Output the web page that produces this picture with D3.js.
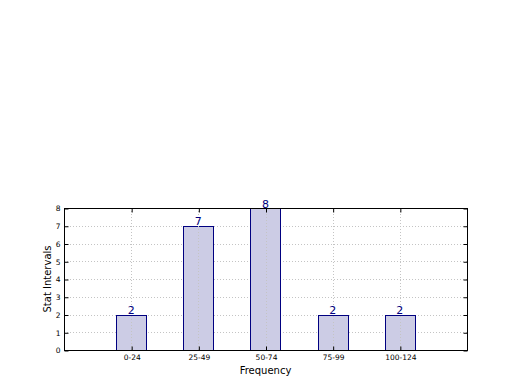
<!DOCTYPE html>
<html>
<head>
<meta charset="utf-8">
<script src="https://cdn.jsdelivr.net/npm/d3@7"></script>
<style>
body { margin: 0; background: #fff; }
text { font-family: "DejaVu Sans", sans-serif; }
</style>
</head>
<body>
<div id="chart"></div>
<script>
// data
var categories = ["0-24", "25-49", "50-74", "75-99", "100-124"];
var counts = [2, 7, 8, 2, 2];
var yTicks = [0, 1, 2, 3, 4, 5, 6, 7, 8];

var width = 520, height = 390;
var plotLeft = 64, plotRight = 467, plotTop = 208, plotBottom = 350;

var svg = d3.select("#chart").append("svg")
	.attr("width", width)
	.attr("height", height);

var x = d3.scaleLinear().domain([-1, categories.length]).range([plotLeft, plotRight]);
var y = d3.scaleLinear().domain([0, 8]).range([plotBottom, plotTop]);
var barW = x(0.45) - x(0);

/* grid */
var grid = svg.append("g").attr("stroke", "#c4c4c4").attr("stroke-dasharray", "1,2").attr("stroke-width", 1);
grid.selectAll("line.gy").data(yTicks).enter().append("line")
	.attr("x1", plotLeft).attr("x2", plotRight)
	.attr("y1", function(d) { return Math.round(y(d)) + 0.5; })
	.attr("y2", function(d) { return Math.round(y(d)) + 0.5; });

/* bars */
svg.selectAll("rect.bar").data(counts).enter().append("rect")
	.attr("class", "bar")
	.attr("x", function(d, i) { return Math.round(x(i) - barW / 2) + 0.5; })
	.attr("y", function(d) { return Math.round(y(d)) + 0.5; })
	.attr("width", Math.round(barW))
	.attr("height", function(d) { return Math.round(y(0)) - Math.round(y(d)); })
	.attr("fill", "#ccccE5")
	.attr("stroke", "#000080")
	.attr("stroke-width", 1);

var grid2 = svg.append("g").attr("stroke", "#c4c4c4").attr("stroke-dasharray", "1,2").attr("stroke-width", 1);
grid2.selectAll("line.gx").data(categories).enter().append("line")
	.attr("x1", function(d, i) { return Math.round(x(i)) + 0.5; })
	.attr("x2", function(d, i) { return Math.round(x(i)) + 0.5; })
	.attr("y1", plotTop).attr("y2", plotBottom);

/* value labels */
svg.selectAll("text.val").data(counts).enter().append("text")
	.attr("x", function(d, i) { return x(i); })
	.attr("y", function(d) { return y(d) - 0.5; })
	.attr("text-anchor", "middle")
	.attr("font-size", 11)
	.attr("fill", "#000080")
	.text(function(d) { return d; });

/* frame */
svg.append("rect")
	.attr("x", plotLeft + 0.5).attr("y", plotTop + 0.5)
	.attr("width", plotRight - plotLeft).attr("height", plotBottom - plotTop)
	.attr("fill", "none").attr("stroke", "#000").attr("stroke-width", 1);

/* axes */
var yAxis = d3.axisLeft(y).tickValues(yTicks).tickSize(-4).tickPadding(4);
var gy = svg.append("g").attr("transform", "translate(" + (plotLeft + 0.5) + ",0.5)").call(yAxis);
gy.select(".domain").remove();
gy.selectAll("text").attr("font-size", 7.5).attr("font-family", "DejaVu Sans");

var gyr = svg.append("g").attr("transform", "translate(" + (plotRight + 0.5) + ",0.5)")
	.call(d3.axisRight(y).tickValues(yTicks).tickSize(-4).tickFormat(""));
gyr.select(".domain").remove();

var xAxis = d3.axisBottom(x).tickValues(d3.range(categories.length))
	.tickFormat(function(d) { return categories[d]; }).tickSize(-4).tickPadding(4);
var gx = svg.append("g").attr("transform", "translate(0.5," + (plotBottom + 0.5) + ")").call(xAxis);
gx.select(".domain").remove();
gx.selectAll("text").attr("font-size", 7.5).attr("font-family", "DejaVu Sans");

var gxt = svg.append("g").attr("transform", "translate(0.5," + (plotTop + 0.5) + ")")
	.call(d3.axisTop(x).tickValues(d3.range(categories.length)).tickSize(-4).tickFormat(""));
gxt.select(".domain").remove();

/* axis labels */
svg.append("text")
	.attr("x", (plotLeft + plotRight) / 2).attr("y", 374)
	.attr("text-anchor", "middle").attr("font-size", 10)
	.text("Frequency");
svg.append("text")
	.attr("transform", "translate(51," + (plotTop + plotBottom) / 2 + ") rotate(-90)")
	.attr("text-anchor", "middle").attr("font-size", 10)
	.text("Stat Intervals");
</script>
</body>
</html>
